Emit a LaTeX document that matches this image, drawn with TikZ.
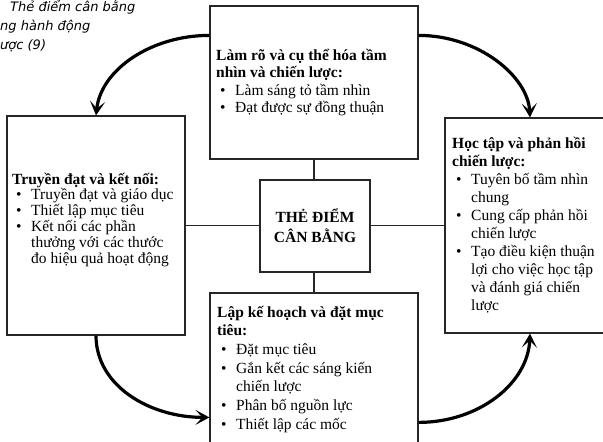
\documentclass[tikz,border=0pt]{standalone}
\usepackage{fontspec}
\setmainfont{Liberation Serif}
\newfontfamily\titlefont{DejaVu Sans}
\usetikzlibrary{arrows.meta,calc}
\newcommand\bulitem{\hspace*{4pt}\makebox[15pt][l]{•}}
\newcommand\contind{\hspace*{19pt}}
\newcommand\tightlines{\lineskiplimit=-100pt\relax\lineskip=0pt\relax}
\begin{document}
\begin{tikzpicture}[x=1pt,y=-1pt,
  box/.style={draw=black!85, line width=1.2pt, fill=white, inner sep=0pt},
  link/.style={draw=black!85, line width=1.2pt},
  flow/.style={draw=black, line width=3.2pt,
    -{Stealth[length=14pt,width=15pt,inset=7pt]}},
  txt/.style={align=left, inner sep=0pt, anchor=base west,
    font=\fontsize{15.5}{#1}\selectfont\tightlines},
  title/.style={align=left, inner sep=0pt, anchor=base west,
    font=\titlefont\itshape\fontsize{13}{19}\selectfont}]
\useasboundingbox (0,0) rectangle (603,442);
\clip (0,0) rectangle (603,442);

% boxes
\node[box, minimum width=208pt, minimum height=153pt] (T) at (314,82.5) {};
\node[box, minimum width=178pt, minimum height=219pt] (L) at (96,225.5) {};
\node[box, minimum width=170pt, minimum height=215pt] (R) at (530,225.5) {};
\node[box, minimum width=208pt, minimum height=157pt] (B) at (314,371.5) {};

% connectors behind centre box
\draw[link] (L.east) -- (R.west);
\draw[link] (T.south) -- (B.north);

\node[box, minimum width=110pt, minimum height=92pt, align=center,
  font=\bfseries\fontsize{15.5}{20}\selectfont] (C) at (315,226)
  {THẺ ĐIỂM\\CÂN BẰNG};

% texts (anchor = baseline of the last line)
\node[txt=17.5] (tT) at (216,112.5)
  {\textbf{Làm rõ và cụ thể hóa tầm}\\
   \textbf{nhìn và chiến lược:}\\
   \bulitem Làm sáng tỏ tầm nhìn\\
   \bulitem Đạt được sự đồng thuận};
\node[txt=15.8] (tL) at (12,263)
  {\textbf{Truyền đạt và kết nối:}\\
   \bulitem Truyền đạt và giáo dục\\
   \bulitem Thiết lập mục tiêu\\
   \bulitem Kết nối các phần\\
   \contind thưởng với các thước\\
   \contind đo hiệu quả hoạt động};
\node[txt=18] (tR) at (452,310)
  {\textbf{Học tập và phản hồi}\\
   \textbf{chiến lược:}\\
   \bulitem Tuyên bố tầm nhìn\\
   \contind chung\\
   \bulitem Cung cấp phản hồi\\
   \contind chiến lược\\
   \bulitem Tạo điều kiện thuận\\
   \contind lợi cho việc học tập\\
   \contind và đánh giá chiến\\
   \contind lược};
\node[txt=18.7] (tB) at (217,429.2)
  {\textbf{Lập kế hoạch và đặt mục}\\
   \textbf{tiêu:}\\
   \bulitem Đặt mục tiêu\\
   \bulitem Gắn kết các sáng kiến\\
   \contind chiến lược\\
   \bulitem Phân bố nguồn lực\\
   \bulitem Thiết lập các mốc};

% title fragment
\node[title] (ttl) at (0,49.5)
  {\hspace*{10pt}Thẻ điểm cân bằng\\ng hành động\\ược (9)};

% curved arrows
\draw[flow] ($(T.north west)+(0,30)$) .. controls +(-58,0) and +(5,-46) .. (L.north);
\draw[flow] ($(T.north east)+(0,30)$) .. controls +(60,0) and +(-2,-41) .. (R.north);
\draw[flow] (L.south) .. controls +(0,50) and +(-60,0) .. ($(B.north west)+(0,125)$);
\draw[flow] ($(B.north east)+(0,130)$) .. controls +(60,0) and +(-2,50) .. (R.south);
\end{tikzpicture}
\end{document}
